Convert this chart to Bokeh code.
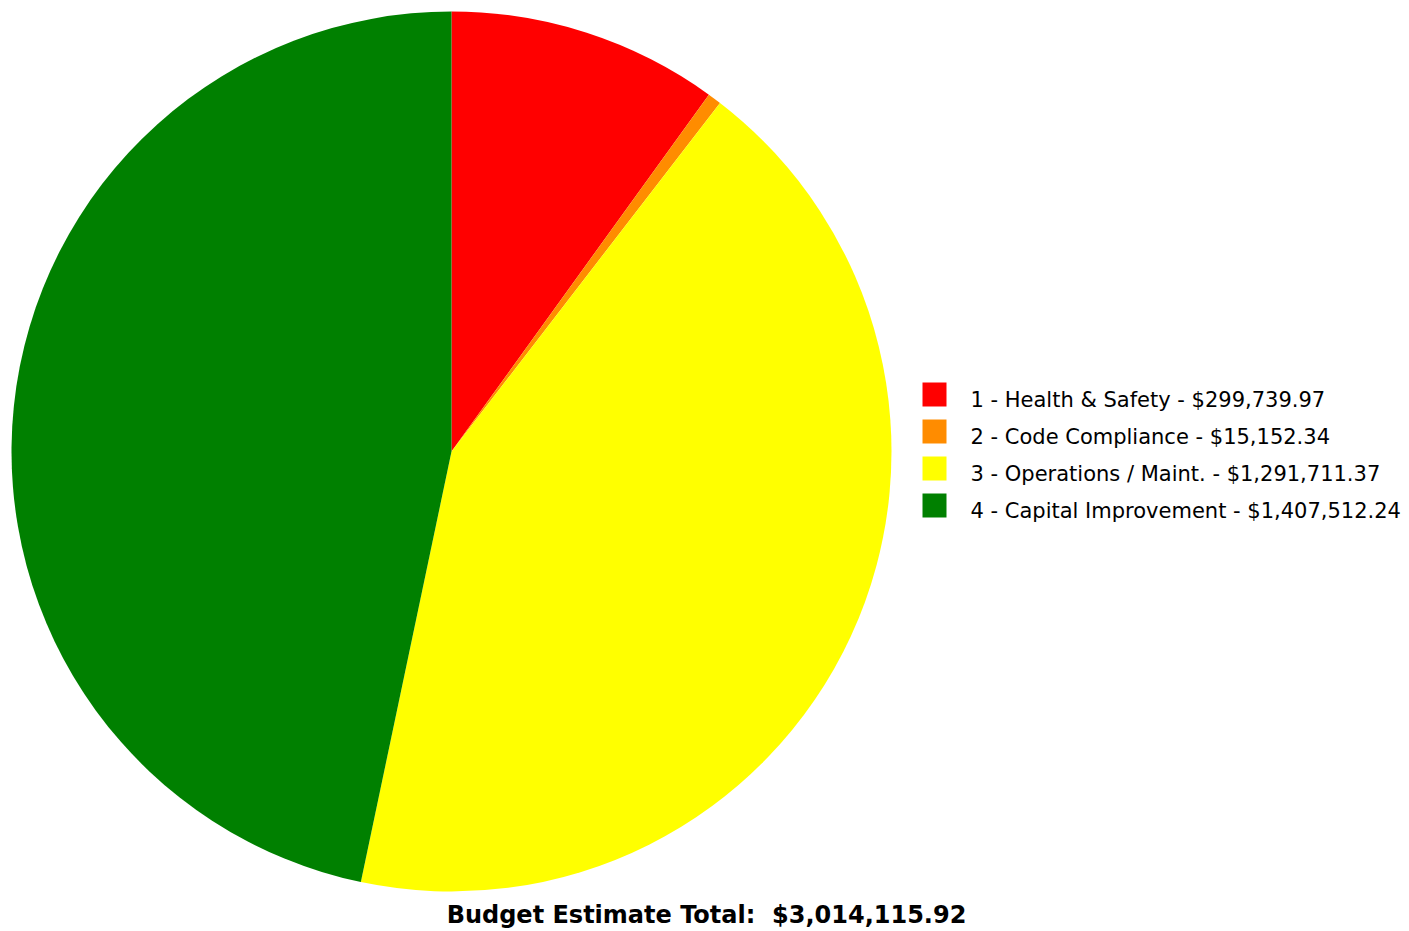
from bokeh.plotting import figure
from bokeh.models import Range1d, ColumnDataSource
from bokeh.core.properties import value
from bokeh.embed import file_html
from bokeh.resources import INLINE
import math

categories = ["1 - Health & Safety", "2 - Code Compliance", "3 - Operations / Maint.", "4 - Capital Improvement"]
amounts = [299739.97, 15152.34, 1291711.37, 1407512.24]
colors = ["#FF0000", "#FF8C00", "#FFFF00", "#008000"]
total_label = "Budget Estimate Total:"

W, H = 1409, 931
total = sum(amounts)

# pie geometry (screen pixels, y measured from top)
cx, cy, R = 451, 451, 440

starts, ends = [], []
a = math.pi / 2
for v in amounts:
    frac = v / total
    starts.append(a)
    a = a - frac * 2 * math.pi
    ends.append(a)

p = figure(width=W, height=H, output_backend="svg", toolbar_location=None,
           x_range=Range1d(0, W), y_range=Range1d(0, H), min_border=0,
           outline_line_color=None, background_fill_color="white")
p.axis.visible = False
p.grid.visible = False

src = ColumnDataSource(dict(start=starts, end=ends, color=colors))
p.wedge(x=cx, y=H - cy, radius=R, radius_units="screen", start_angle="start", end_angle="end",
        direction="clock", fill_color="color", line_color=None, source=src)

# legend
row_y = [394 + 37 * i for i in range(len(categories))]
leg_src = ColumnDataSource(dict(
    x=[934] * len(categories),
    y=[H - y for y in row_y],
    ty=[H - (y + 5) for y in row_y],
    tx=[970] * len(categories),
    color=colors,
    label=[f"{c} - ${v:,.2f}" for c, v in zip(categories, amounts)],
))
p.rect(x="x", y="y", width=24, height=24, width_units="screen", height_units="screen",
       fill_color="color", line_color=None, source=leg_src)
p.text(x="tx", y="ty", text="label", text_font=value("DejaVu Sans"), text_font_size="21px",
       text_baseline="middle", text_align="left", text_color="#000000", source=leg_src)

p.text(x=[706], y=[H - 914], text=[f"{total_label}\u00a0 ${total:,.2f}"], text_font=value("DejaVu Sans"),
       text_font_size="24px", text_font_style="bold", text_baseline="middle",
       text_align="center", text_color="#000000")

open("out.html", "w").write(file_html(p, INLINE))
